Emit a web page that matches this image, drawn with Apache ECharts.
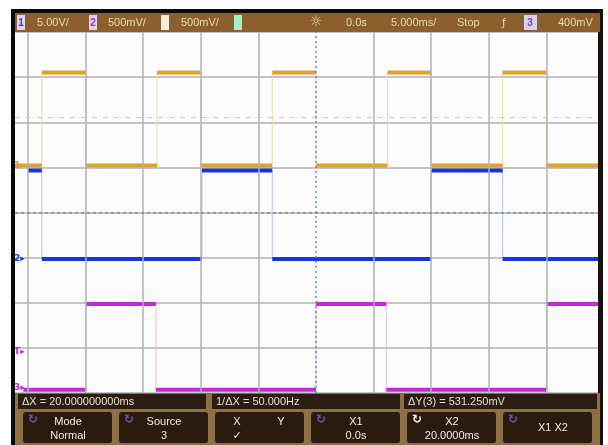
<!DOCTYPE html>
<html>
<head>
<meta charset="utf-8">
<script src="https://cdn.jsdelivr.net/npm/echarts@6/dist/echarts.min.js"></script>
<style>
  html, body { margin: 0; padding: 0; background: #fff; }
  #scope { width: 608px; height: 445px; }
</style>
</head>
<body>
<div id="scope"></div>
<script>
// time base: 5 ms/div, trigger at 0 ms, screen shows -26.13 .. 24.48 ms
const timeMin = -26.13, timeMax = 24.48;
const gridTimes = [-25, -20, -15, -10, -5, 5, 10, 15, 20];

// channel 1 (yellow), 5 V/div, ground 1.04 div above centre
const ch1Times = [-26.13, -23.8, -20, -13.8, -10, -3.8, 0, 6.2, 10, 16.2, 20, 24.48];
const ch1Volts = [0, 10.3, 0, 10.3, 0, 10.3, 0, 10.3, 0, 10.3, 0, 0];

// channel 2 (blue), 500 mV/div, ground 1.03 div below centre
const ch2Times = [-25, -23.8, -9.9, -3.8, 10, 16.2, 24.48];
const ch2Volts = [0.98, 0, 0.98, 0, 0.98, 0, 0];

// channel 3 (magenta), 500 mV/div, ground 3.89 div below centre, trigger 400 mV
const ch3Times = [-25.4, -20, -13.9, 0, 6.1, 20, 24.48];
const ch3Volts = [-0.02, 0.93, -0.02, 0.93, -0.02, 0.93, 0.93];
const triggerLevel = 0.4;

const voltsPerDiv = [5, 0.5, 0.5];
const groundDiv = [1.04, -1.03, -3.89];
const traceColors = ['#e0a02c', '#1432e6', '#c02ad8'];
const edgeColors = ['#f2d8a4', '#b4c0f4', '#e8b8f2'];
const markerText = ['1', '2', '3'];

const topLabels = [
  { x: 37, text: '5.00V/' }, { x: 108, text: '500mV/' }, { x: 181, text: '500mV/' },
  { x: 346, text: '0.0s' }, { x: 391, text: '5.000ms/' }, { x: 457, text: 'Stop' },
  { x: 558, text: '400mV' }
];
const statusLabels = ['\u0394X = 20.000000000ms', '1/\u0394X = 50.000Hz', '\u0394Y(3) = 531.250mV'];
const softKeys = [
  { top: 'Mode', bottom: 'Normal' }, { top: 'Source', bottom: '3' }, { top: '', bottom: '' },
  { top: 'X1', bottom: '0.0s' }, { top: 'X2', bottom: '20.0000ms' }, { top: 'X1 X2', bottom: '' }
];

const chart = echarts.init(document.getElementById('scope'));

function stepData(times, volts) {
  return times.map((t, i) => [t, volts[i]]);
}
function levelData(times, volts) {
  const out = [];
  for (let i = 0; i < times.length - 1; i++) {
    out.push([times[i], volts[i]], [times[i + 1], volts[i]], [times[i + 1], '-']);
  }
  return out;
}
function marker(value, text, color) {
  return {
    coord: [-25.75, value], symbol: 'circle', symbolSize: 2, itemStyle: { color: 'rgba(0,0,0,0)' },
    label: { show: true, position: 'inside', formatter: text, color: color, fontSize: 9, fontWeight: 'bold', fontFamily: 'DejaVu Sans' }
  };
}

const chTimes = [ch1Times, ch2Times, ch3Times];
const chVolts = [ch1Volts, ch2Volts, ch3Volts];

const yAxes = [{
  type: 'value', min: -4, max: 4, interval: 1,
  axisLine: { show: false }, axisTick: { show: false }, axisLabel: { show: false },
  splitLine: { show: true, lineStyle: { color: '#b2b2b2', width: 1.5 } }
}];
voltsPerDiv.forEach((v, k) => {
  yAxes.push({ type: 'value', show: false, min: (-4 - groundDiv[k]) * v, max: (4 - groundDiv[k]) * v });
});

const gridMarks = gridTimes.map(t => ({ xAxis: t, lineStyle: { color: '#b2b2b2', type: 'solid', width: 1.5 } }));
gridMarks.push(
  { yAxis: 0, lineStyle: { color: '#8a8a8a', type: [3, 3], width: 1.5 } },
  { yAxis: 2.12, lineStyle: { color: '#c4c8dc', type: [5, 6], width: 1 } },
  { xAxis: 0, lineStyle: { color: '#6a84c8', type: [2, 3], width: 1.5 } }
);

const series = [{
  type: 'line', data: [], silent: true, z: 1,
  markLine: { silent: true, symbol: 'none', label: { show: false }, animation: false, data: gridMarks }
}];
chTimes.forEach((times, k) => {
  const marks = [marker(0, markerText[k] + '\u25B8', traceColors[k])];
  if (k === 2) marks.push(marker(triggerLevel, 'T\u25B8', traceColors[k]));
  series.push({
    type: 'line', yAxisIndex: k + 1, step: 'end', symbol: 'none', silent: true,
    data: stepData(times, chVolts[k]),
    lineStyle: { color: edgeColors[k], width: 1 }, z: 3
  });
  series.push({
    type: 'line', yAxisIndex: k + 1, symbol: 'none', silent: true, connectNulls: false,
    data: levelData(times, chVolts[k]),
    lineStyle: { color: traceColors[k], width: 4, cap: 'butt' }, z: 4,
    markPoint: { silent: true, animation: false, data: marks }
  });
});

const font = '11px "Liberation Sans", Arial, sans-serif';
const g = [
  // bezel and plot background
  { type: 'rect', z: -10, shape: { x: 11, y: 9, width: 592, height: 436 }, style: { fill: '#0c0a08' } },
  { type: 'rect', z: -9, shape: { x: 15, y: 32, width: 583, height: 361 }, style: { fill: '#fcfcfc' } },
  // side strips
  { type: 'rect', z: 100, shape: { x: 11, y: 9, width: 4, height: 436 }, style: { fill: '#0c0a08' } },
  { type: 'rect', z: 100, shape: { x: 598, y: 9, width: 5, height: 436 }, style: { fill: '#1a120a' } },
  // top status bar
  { type: 'rect', z: 100, shape: { x: 15, y: 13, width: 585, height: 19 }, style: { fill: '#8c5f2c' } },
  { type: 'rect', z: 101, shape: { x: 17, y: 15, width: 8, height: 15 }, style: { fill: '#dcd4f8' } },
  { type: 'rect', z: 101, shape: { x: 89, y: 15, width: 8, height: 15 }, style: { fill: '#e6cef8' } },
  { type: 'rect', z: 101, shape: { x: 161, y: 15, width: 8, height: 15 }, style: { fill: '#f4eedc' } },
  { type: 'rect', z: 101, shape: { x: 234, y: 15, width: 8, height: 15 }, style: { fill: '#a4f0c8' } },
  { type: 'rect', z: 101, shape: { x: 524, y: 15, width: 13, height: 15 }, style: { fill: '#d8d0f8' } },
  { type: 'text', z: 102, style: { x: 21, y: 23, text: '1', fill: '#5a3a90', font: 'bold 10px "Liberation Sans"', textAlign: 'center', textVerticalAlign: 'middle' } },
  { type: 'text', z: 102, style: { x: 93, y: 23, text: '2', fill: '#8a40a0', font: 'bold 10px "Liberation Sans"', textAlign: 'center', textVerticalAlign: 'middle' } },
  { type: 'text', z: 102, style: { x: 530, y: 23, text: '3', fill: '#8a40a0', font: 'bold 10px "Liberation Sans"', textAlign: 'center', textVerticalAlign: 'middle' } },
  { type: 'text', z: 102, style: { x: 316, y: 22, text: '\u263C', fill: '#f2dcb4', font: '14px "DejaVu Sans"', textAlign: 'center', textVerticalAlign: 'middle' } },
  { type: 'text', z: 102, style: { x: 504, y: 23, text: '\u0192', fill: '#eadcb0', font: '11px "DejaVu Sans"', textAlign: 'center', textVerticalAlign: 'middle' } },
  // bottom rows
  { type: 'rect', z: 100, shape: { x: 15, y: 393, width: 585, height: 52 }, style: { fill: '#8e7046' } }
];
topLabels.forEach(l => {
  g.push({ type: 'text', z: 102, style: { x: l.x, y: 23, text: l.text, fill: '#ecdcb2', font: font, textVerticalAlign: 'middle' } });
});
[[18, 188], [212, 188], [404, 193]].forEach((b, i) => {
  g.push({ type: 'rect', z: 101, shape: { x: b[0], y: 394, width: b[1], height: 15 }, style: { fill: '#2c1c12' } });
  g.push({ type: 'text', z: 102, style: { x: b[0] + 4, y: 402, text: statusLabels[i], fill: '#e8dccc', font: font, textVerticalAlign: 'middle' } });
});
softKeys.forEach((s, i) => {
  const x0 = 23 + i * 96;
  const cx = x0 + 50;
  g.push({ type: 'rect', z: 101, shape: { x: x0, y: 412, width: 89, height: 31, r: 3 }, style: { fill: '#2a1a10' } });
  if (i !== 2) {
    g.push({ type: 'text', z: 102, style: { x: x0 + 10, y: 420, text: '\u21BB', fill: i === 4 ? '#f4f0f0' : '#6c5c84', font: 'bold 12px "DejaVu Sans"', textAlign: 'center', textVerticalAlign: 'middle' } });
  }
  if (s.bottom) {
    g.push({ type: 'text', z: 102, style: { x: cx - 5, y: 422, text: s.top, fill: '#f2ece2', font: font, textAlign: 'center', textVerticalAlign: 'middle' } });
    g.push({ type: 'text', z: 102, style: { x: cx - 5, y: 436, text: s.bottom, fill: '#f2ece2', font: font, textAlign: 'center', textVerticalAlign: 'middle' } });
  } else if (s.top) {
    g.push({ type: 'text', z: 102, style: { x: cx, y: 428, text: s.top, fill: '#f2ece2', font: font, textAlign: 'center', textVerticalAlign: 'middle' } });
  }
});
g.push({ type: 'text', z: 102, style: { x: 237, y: 422, text: 'X', fill: '#f2ece2', font: font, textAlign: 'center', textVerticalAlign: 'middle' } });
g.push({ type: 'text', z: 102, style: { x: 281, y: 422, text: 'Y', fill: '#f2ece2', font: font, textAlign: 'center', textVerticalAlign: 'middle' } });
g.push({ type: 'text', z: 102, style: { x: 237, y: 436, text: '\u2713', fill: '#f2ece2', font: 'bold 11px "DejaVu Sans"', textAlign: 'center', textVerticalAlign: 'middle' } });

chart.setOption({
  animation: false,
  backgroundColor: '#ffffff',
  grid: { left: 15, right: 10, top: 32, bottom: 52 },
  xAxis: {
    type: 'value', min: timeMin, max: timeMax,
    axisLine: { show: false }, axisTick: { show: false }, axisLabel: { show: false },
    splitLine: { show: false }
  },
  yAxis: yAxes,
  series: series,
  graphic: { elements: g }
});
</script>
</body>
</html>
